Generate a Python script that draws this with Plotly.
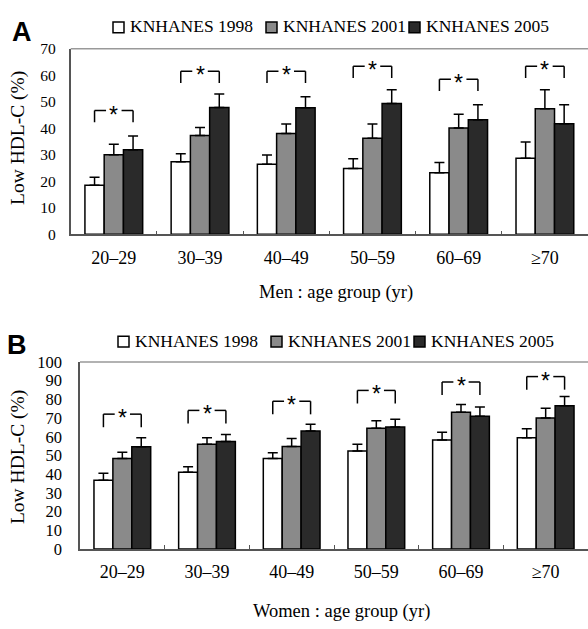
import plotly.graph_objects as go

# ---------------- data ----------------
ages = ["20–29", "30–39", "40–49", "50–59", "60–69", "≥70"]
series_names = ["KNHANES 1998", "KNHANES 2001", "KNHANES 2005"]

men_1998 = [18.5, 27.4, 26.4, 24.8, 23.2, 28.7]
men_2001 = [30.0, 37.3, 38.0, 36.2, 40.1, 47.4]
men_2005 = [31.9, 47.8, 47.7, 49.3, 43.2, 41.7]
men_err_1998 = [3.0, 3.0, 3.5, 3.7, 3.9, 6.1]
men_err_2001 = [4.0, 3.0, 3.6, 5.4, 5.2, 7.1]
men_err_2005 = [5.2, 5.1, 4.2, 5.2, 5.7, 7.2]
men_bracket = [46.7, 61.5, 61.5, 63.4, 58.5, 63.4]

women_1998 = [36.7, 41.0, 48.3, 52.4, 58.3, 59.5]
women_2001 = [48.3, 56.0, 54.8, 64.5, 73.1, 70.0]
women_2005 = [54.7, 57.4, 63.1, 65.2, 71.0, 76.6]
women_err_1998 = [3.8, 3.0, 3.1, 3.6, 4.1, 4.8]
women_err_2001 = [3.4, 3.5, 4.2, 4.1, 4.1, 5.3]
women_err_2005 = [4.8, 3.8, 3.6, 4.1, 4.9, 5.0]
women_bracket = [72.1, 74.1, 79.0, 84.8, 89.3, 92.2]

y_ticks_men = [0, 10, 20, 30, 40, 50, 60, 70]
y_ticks_women = [0, 10, 20, 30, 40, 50, 60, 70, 80, 90, 100]

# ---------------- style ----------------
W, H = 588, 629
colors = ["#ffffff", "#8a8a8a", "#2a2a2a"]
SERIF = "Liberation Serif"
SANS = "Liberation Sans"
BARGAP = 0.33
axis_col = "#555555"
top_col = "#999999"

fig = go.Figure()

def add_panel(vals, errs, xa, ya):
    for name, v, e, c in zip(series_names, vals, errs, colors):
        fig.add_trace(go.Bar(
            x=ages, y=v, name=name, xaxis=xa, yaxis=ya, showlegend=False,
            marker=dict(color=c, line=dict(color="black", width=1.5)),
            error_y=dict(type="data", array=e, arrayminus=[0] * len(e),
                         symmetric=False, color="black", thickness=1.5, width=5),
        ))

add_panel([men_1998, men_2001, men_2005],
          [men_err_1998, men_err_2001, men_err_2005], "x", "y")
add_panel([women_1998, women_2001, women_2005],
          [women_err_1998, women_err_2001, women_err_2005], "x2", "y2")

# brackets with star
bw = (1 - BARGAP) / 3
gap = 0.09

def add_brackets(levels, leg, xref, yref):
    for i, lv in enumerate(levels):
        xl, xr = i - bw, i + bw
        line = dict(color="black", width=1.5)
        fig.add_shape(type="line", x0=xl, x1=xl, y0=lv - leg, y1=lv, xref=xref, yref=yref, line=line)
        fig.add_shape(type="line", x0=xl, x1=i - gap, y0=lv, y1=lv, xref=xref, yref=yref, line=line)
        fig.add_shape(type="line", x0=i + gap, x1=xr, y0=lv, y1=lv, xref=xref, yref=yref, line=line)
        fig.add_shape(type="line", x0=xr, x1=xr, y0=lv - leg, y1=lv, xref=xref, yref=yref, line=line)
        fig.add_annotation(x=i, y=lv, xref=xref, yref=yref, text="*", showarrow=False,
                           font=dict(family=SANS, size=23, color="black"),
                           yanchor="middle", yshift=-4)

add_brackets(men_bracket, 4.4, "x", "y")
add_brackets(women_bracket, 7.0, "x2", "y2")

def py(px):
    return 1 - px / H

def pxx(px):
    return px / W

xA = [70.7 / W, 1.0]
yA = [py(232.3), py(41)]
xB = [80 / W, 1.0]
yB = [py(556.7), py(364)]

xcommon = dict(type="category", categoryorder="array", categoryarray=ages,
               range=[-0.5, 5.5], showline=True, linecolor=axis_col, linewidth=1.5,
               ticks="inside", tickson="boundaries", ticklen=4, tickcolor=axis_col,
               tickwidth=1, showgrid=False, zeroline=False,
               tickfont=dict(family=SERIF, size=18, color="black"),
               ticklabelstandoff=6, fixedrange=True)
ycommon = dict(showline=True, linecolor=axis_col, linewidth=1.5, ticks="",
               showgrid=False, zeroline=False, fixedrange=True)

fig.update_layout(
    width=W, height=H, margin=dict(l=0, r=0, t=0, b=0),
    paper_bgcolor="white", plot_bgcolor="white",
    barmode="group", bargap=BARGAP, bargroupgap=0, showlegend=False,
    xaxis=dict(domain=xA, anchor="y", **xcommon),
    yaxis=dict(domain=yA, anchor="x", range=[0, 70], tickvals=y_ticks_men,
               tickfont=dict(family=SERIF, size=15.5, color="black"),
               ticklabelstandoff=10, **ycommon),
    xaxis2=dict(domain=xB, anchor="y2", **xcommon),
    yaxis2=dict(domain=yB, anchor="x2", range=[0, 100], tickvals=y_ticks_women,
                tickfont=dict(family=SERIF, size=16.5, color="black"),
                ticklabelstandoff=13, **ycommon),
)

# top frame lines
for xr, yr in [("x domain", "y domain"), ("x2 domain", "y2 domain")]:
    fig.add_shape(type="line", xref=xr, yref=yr, x0=0, x1=1, y0=1, y1=1,
                  line=dict(color=top_col, width=1.5))

# legends (key squares + labels)
def add_legend(sq_left, yc):
    for name, c, x0 in zip(series_names, colors, sq_left):
        fig.add_shape(type="rect", xref="paper", yref="paper",
                      x0=pxx(x0), x1=pxx(x0 + 11), y0=py(yc + 5.5), y1=py(yc - 5.5),
                      fillcolor=c, line=dict(color="black", width=1.5))
        fig.add_annotation(text=name, x=pxx(x0 + 15), y=py(yc - 1), xref="paper", yref="paper",
                           showarrow=False, xanchor="left", yanchor="middle",
                           font=dict(family=SERIF, size=17.5, color="black"))

add_legend([113, 266, 409], 19)
add_legend([118, 271, 414], 343)

# titles and panel letters
for txt, xc, yc in [("Men : age group (yr)", 336, 292), ("Women : age group (yr)", 341, 621)]:
    fig.add_annotation(text=txt, x=pxx(xc), y=py(yc), xref="paper", yref="paper",
                       showarrow=False, font=dict(family=SERIF, size=18.5, color="black"),
                       xanchor="center", yanchor="middle")
for txt, yc in [("Low HDL-C (%)", 133), ("Low HDL-C (%)", 462)]:
    fig.add_annotation(text=txt, x=pxx(18), y=py(yc), xref="paper", yref="paper",
                       showarrow=False, textangle=-90,
                       font=dict(family=SERIF, size=19.5, color="black"),
                       xanchor="center", yanchor="middle")
fig.add_annotation(text="<b>A</b>", x=pxx(22), y=py(24), xref="paper", yref="paper",
                   showarrow=False, font=dict(family=SANS, size=27, color="black"),
                   xanchor="center", yanchor="middle")
fig.add_annotation(text="<b>B</b>", x=pxx(17), y=py(346), xref="paper", yref="paper",
                   showarrow=False, font=dict(family=SANS, size=27, color="black"),
                   xanchor="center", yanchor="middle")

# remove the browser's default page margin so the figure sits at (0, 0)
fig.write_html("out.html", config={"displayModeBar": False},
               post_script="document.body.style.margin='0px';")
